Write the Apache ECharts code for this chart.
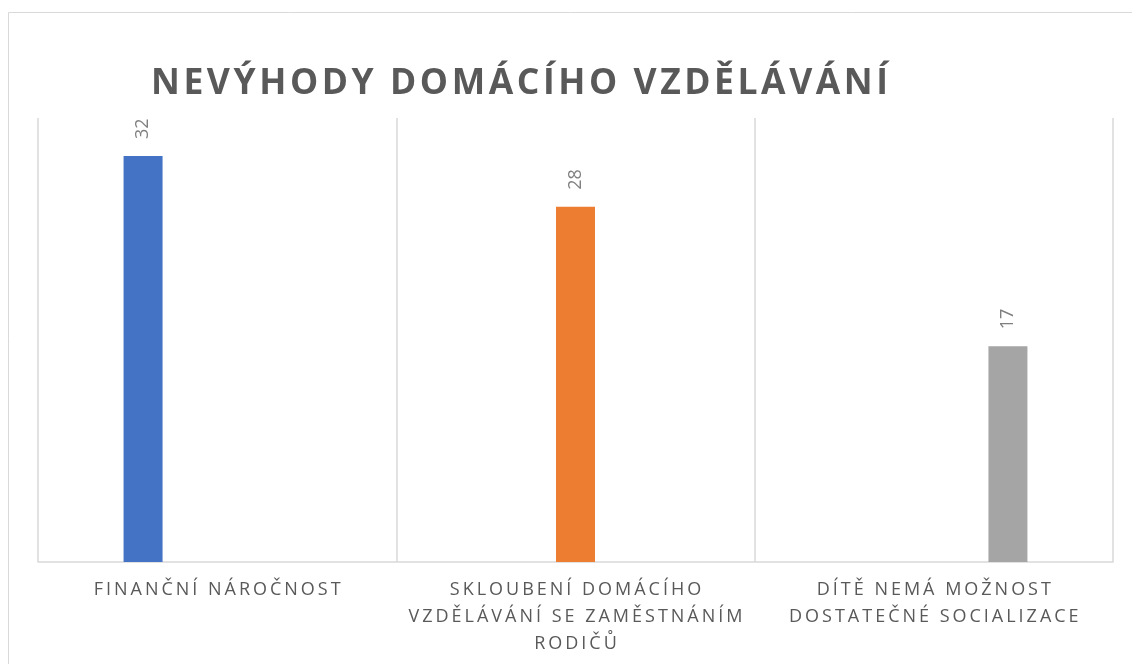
<!DOCTYPE html>
<html>
<head>
<meta charset="utf-8">
<script src="https://cdn.jsdelivr.net/npm/echarts@6/dist/echarts.min.js"></script>
<style>html,body{margin:0;padding:0;background:#fff;}#c{width:1132px;height:664px;}</style>
</head>
<body>
<div id="c"></div>
<script>
const titleText = 'NEVÝHODY DOMÁCÍHO VZDĚLÁVÁNÍ';
const categories = ['FINANČNÍ NÁROČNOST', 'SKLOUBENÍ DOMÁCÍHO\nVZDĚLÁVÁNÍ SE ZAMĚSTNÁNÍM\nRODIČŮ', 'DÍTĚ NEMÁ MOŽNOST\nDOSTATEČNÉ SOCIALIZACE'];
const seriesNames = ['Finanční náročnost', 'Skloubení', 'Socializace'];
const values1 = [32, '-', '-'];
const values2 = ['-', 28, '-'];
const values3 = ['-', '-', 17];
const colors = ['#4472c4', '#ed7d31', '#a5a5a5'];

// visual letter spacing: insert narrow spaces between characters
const spaced = (s, sep) => s.split('\n').map(l => Array.from(l).join(sep)).join('\n');
const HAIR = '\u200A', THIN = '\u2009';

const chart = echarts.init(document.getElementById('c'), null, {renderer: 'canvas'});
const lbl = {show: true, position: 'top', rotate: 90, align: 'left', verticalAlign: 'middle', distance: 17, color: '#7f7f7f', fontSize: 18, fontFamily: 'Open Sans'};
const mk = (name, data, color) => ({
  name, type: 'bar', data, barWidth: 39, barGap: '90%',
  itemStyle: {color}, label: lbl, silent: true
});
chart.setOption({
  animation: false,
  title: {
    text: spaced(titleText, HAIR), left: 146, top: 61,
    textStyle: {fontFamily: 'Open Sans', fontWeight: 'bold', fontSize: 35.5, color: '#595959'}
  },
  graphic: [{type: 'rect', shape: {x: 8.5, y: 12.5, width: 1200, height: 800}, style: {fill: 'none', stroke: '#d9d9d9', lineWidth: 1}, silent: true}],
  grid: {left: 38, right: 19, top: 118, bottom: 102},
  xAxis: {
    type: 'category', data: categories,
    axisLine: {lineStyle: {color: '#d9d9d9', width: 1.5}},
    axisTick: {show: false},
    splitLine: {show: true, lineStyle: {color: '#d9d9d9', width: 1.5}},
    axisLabel: {color: '#595959', fontSize: 18, fontFamily: 'Open Sans', lineHeight: 27, margin: 14, interval: 0,
      formatter: v => spaced(v, THIN)}
  },
  yAxis: {type: 'value', min: 0, max: 35, show: false, splitLine: {show: false}},
  series: [mk(seriesNames[0], values1, colors[0]), mk(seriesNames[1], values2, colors[1]), mk(seriesNames[2], values3, colors[2])]
});
</script>
</body>
</html>
